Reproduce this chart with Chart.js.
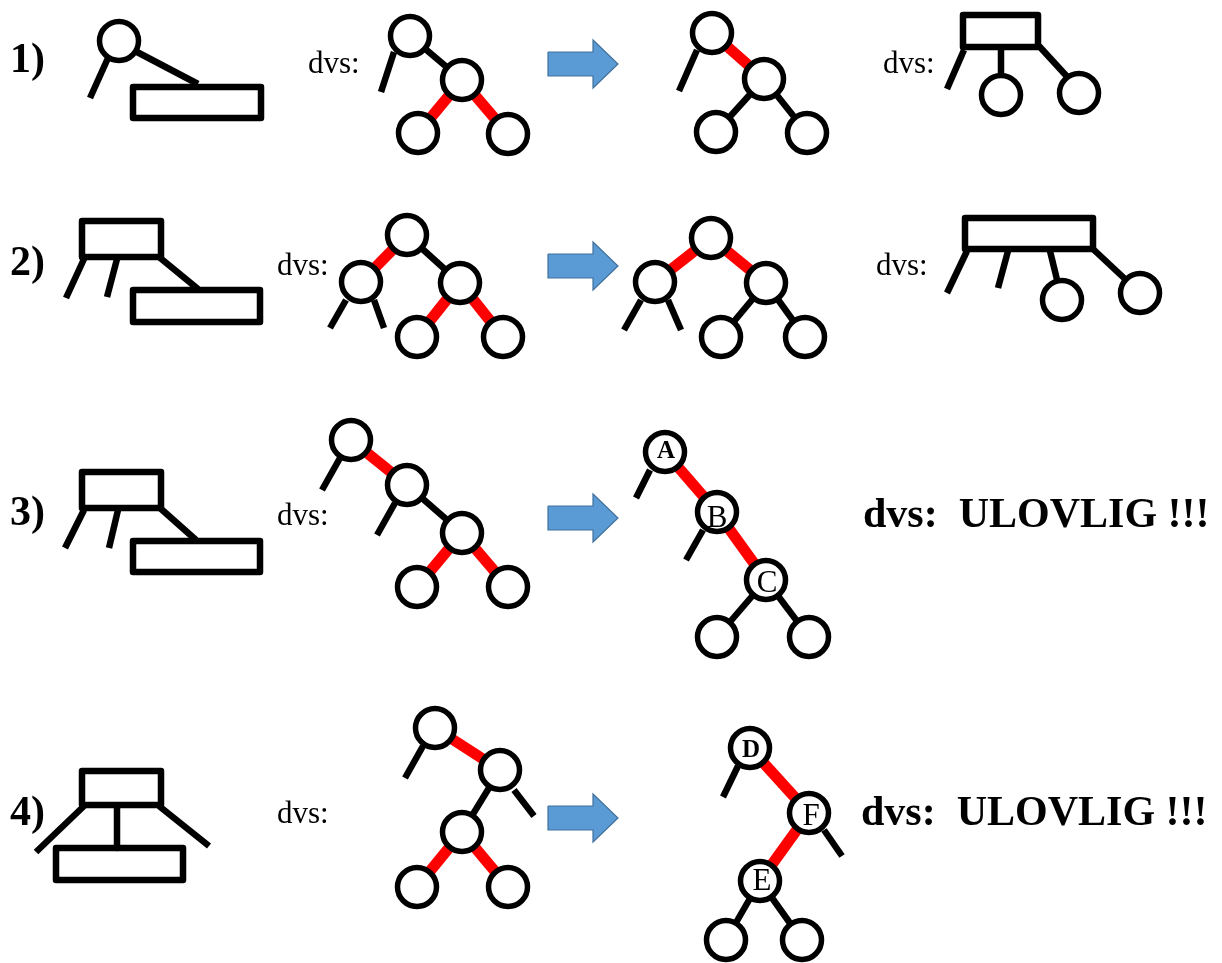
<!DOCTYPE html>
<html>
<head>
<meta charset="utf-8">
<script src="https://cdn.jsdelivr.net/npm/chart.js@4.4.1/dist/chart.umd.min.js"></script>
<style>
  html, body { margin: 0; background: #fff; }
  #wrap { width: 1222px; height: 963px; }
</style>
</head>
<body>
<div id="wrap"><canvas id="chart"></canvas></div>
<script>
// tree nodes (circle centres)
const nodes = [
  [119, 41],
  [410, 36], [462, 80], [418, 133], [508, 134],
  [712, 33], [764, 79], [716, 132], [807, 133],
  [1001, 95], [1079, 93],
  [407, 235], [361, 282], [460, 283], [417, 337], [503, 337],
  [711, 238], [655, 282], [766, 283], [721, 337], [805, 337],
  [1062, 300], [1140, 293],
  [351, 440], [407, 485], [462, 533], [417, 587], [508, 587],
  [665, 452], [717, 512], [766, 580], [717, 637], [809, 637],
  [435, 728], [500, 770], [462, 832], [417, 887], [508, 887],
  [750, 748], [809, 813], [760, 881], [726, 940], [802, 940]
];

// black links and stubs [x1, y1, x2, y2]
const blackEdges = [
  [108, 58, 90, 98], [137, 52, 198, 84],
  [394, 52, 381, 92], [410, 36, 462, 80],
  [697, 50, 679, 91], [764, 79, 716, 132], [764, 79, 807, 133],
  [964, 50, 947, 89], [1001, 50, 1001, 80], [1039, 46, 1072, 82],
  [84, 259, 66, 298], [117, 259, 107, 297], [159, 257, 198, 289],
  [407, 235, 460, 283], [346, 300, 330, 328], [374, 300, 384, 328],
  [766, 283, 721, 337], [766, 283, 805, 337], [641, 300, 624, 330], [668, 300, 681, 330],
  [967, 251, 947, 293], [1008, 251, 998, 288], [1050, 251, 1062, 300], [1093, 249, 1140, 293],
  [84, 510, 65, 548], [118, 510, 109, 548], [160, 508, 196, 540],
  [407, 485, 462, 533], [340, 458, 322, 490], [395, 503, 377, 535],
  [766, 580, 717, 637], [766, 580, 809, 637], [650, 470, 636, 498], [703, 530, 686, 560],
  [84, 806, 36, 852], [117, 807, 117, 848], [159, 806, 209, 846],
  [500, 770, 462, 832], [423, 746, 405, 778], [514, 790, 534, 816],
  [760, 881, 726, 940], [760, 881, 802, 940], [738, 766, 723, 797], [824, 830, 842, 856]
];

// red links
const redEdges = [
  [462, 80, 418, 133], [462, 80, 508, 134],
  [712, 33, 764, 79],
  [407, 235, 361, 282], [460, 283, 417, 337], [460, 283, 503, 337],
  [711, 238, 655, 282], [711, 238, 766, 283],
  [351, 440, 407, 485], [462, 533, 417, 587], [462, 533, 508, 587],
  [665, 452, 717, 512], [717, 512, 766, 580],
  [435, 728, 500, 770], [462, 832, 417, 887], [462, 832, 508, 887],
  [750, 748, 809, 813], [809, 813, 760, 881]
];

// boxes [x1, y1, x2, y2]
const boxes = [
  [133, 87, 261, 118],
  [963, 15, 1038, 47],
  [82, 221, 161, 257], [133, 290, 260, 322],
  [965, 218, 1093, 249],
  [82, 472, 161, 508], [133, 541, 260, 572],
  [82, 771, 161, 805], [56, 848, 183, 880]
];

// arrows
const arrowRows = [64, 266, 518, 818];
const arrowX = [548, 593, 618];

// text
const rowNumbers = ['1)', '2)', '3)', '4)'];
const rowNumberY = [72, 275, 525, 825];
const dvsPos = [[308, 73], [883, 73], [277, 275], [876, 275], [277, 525], [277, 823]];
const verdictText = 'dvs:  ULOVLIG !!!';
const verdictPos = [[863, 527], [861, 825]];
const nodeLetters = ['A', 'B', 'C', 'D', 'F', 'E'];
const letterPos = [[666, 458], [717, 527], [767, 592], [751, 757], [811, 825], [762, 890]];
const letterBold = [true, false, false, true, false, false];

const seg = s => [{ x: s[0], y: s[1] }, { x: s[2], y: s[3] }];
const box = b => [
  { x: (b[0] + b[2]) / 2, y: b[1] }, { x: b[2], y: b[1] }, { x: b[2], y: b[3] },
  { x: b[0], y: b[3] }, { x: b[0], y: b[1] }, { x: (b[0] + b[2]) / 2, y: b[1] }
];
const arrow = cy => [
  { x: arrowX[0], y: cy - 12 }, { x: arrowX[1], y: cy - 12 }, { x: arrowX[1], y: cy - 24 },
  { x: arrowX[2], y: cy }, { x: arrowX[1], y: cy + 24 }, { x: arrowX[1], y: cy + 12 },
  { x: arrowX[0], y: cy + 12 }, { x: arrowX[0], y: cy - 12 }
];

const lineSet = (data, color, width, order) => ({
  data, showLine: true, borderColor: color, borderWidth: width, pointRadius: 0,
  borderCapStyle: 'butt', borderJoinStyle: 'round', tension: 0, order, clip: false
});

const datasets = [
  {
    data: nodes.map(n => ({ x: n[0], y: n[1] })),
    pointRadius: 19.5, pointBorderWidth: 5.5, pointBackgroundColor: '#fff',
    pointBorderColor: '#000', order: 0, clip: false
  },
  ...redEdges.map(s => lineSet(seg(s), '#ff0000', 11, 2)),
  ...blackEdges.map(s => lineSet(seg(s), '#000', 6.5, 1)),
  ...boxes.map(b => lineSet(box(b), '#000', 6.5, 1)),
  ...arrowRows.map(cy => ({
    ...lineSet(arrow(cy), '#41719c', 1.2, 3),
    fill: 'shape', backgroundColor: '#5b9bd5', borderJoinStyle: 'miter'
  }))
];

const textPlugin = {
  id: 'texts',
  afterDatasetsDraw(chart) {
    const { ctx, scales: { x, y } } = chart;
    ctx.save();
    ctx.fillStyle = '#000';
    ctx.textBaseline = 'alphabetic';
    ctx.textAlign = 'left';
    ctx.font = 'bold 42px "Liberation Serif"';
    rowNumbers.forEach((t, i) => {
      ctx.fillText(t, x.getPixelForValue(10), y.getPixelForValue(rowNumberY[i]));
    });
    ctx.font = '31px "Liberation Serif"';
    dvsPos.forEach(p => ctx.fillText('dvs:', x.getPixelForValue(p[0]), y.getPixelForValue(p[1])));
    ctx.font = 'bold 42px "Liberation Serif"';
    verdictPos.forEach(p => ctx.fillText(verdictText, x.getPixelForValue(p[0]), y.getPixelForValue(p[1])));
    ctx.textAlign = 'center';
    nodeLetters.forEach((t, i) => {
      ctx.font = letterBold[i] ? 'bold 25px "Liberation Serif"' : '31px "Liberation Serif"';
      ctx.fillText(t, x.getPixelForValue(letterPos[i][0]), y.getPixelForValue(letterPos[i][1]));
    });
    ctx.restore();
  }
};

new Chart(document.getElementById('chart'), {
  type: 'scatter',
  data: { datasets },
  options: {
    responsive: true,
    maintainAspectRatio: false,
    animation: false,
    events: [],
    layout: { padding: 0, autoPadding: false },
    plugins: { legend: { display: false }, tooltip: { enabled: false } },
    scales: {
      x: { type: 'linear', min: 0, max: 1222, display: false },
      y: { type: 'linear', min: 0, max: 963, reverse: true, display: false }
    }
  },
  plugins: [textPlugin]
});
</script>
</body>
</html>
